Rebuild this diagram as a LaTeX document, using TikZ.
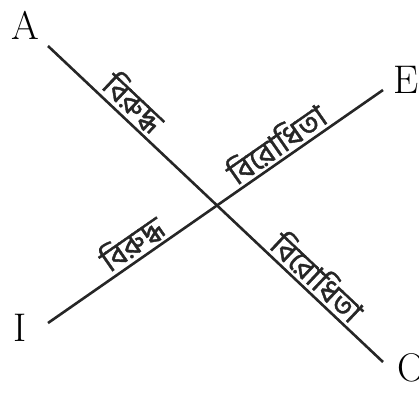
\documentclass[tikz,border=0pt]{standalone}
\usepackage{fontspec}
\newfontfamily\bnfont[Script=Bengali,FakeBold=1.2]{Hind Siliguri}
\usetikzlibrary{positioning}
\begin{document}
\begin{tikzpicture}[x=1pt, y=-1pt,
  corner/.style={font=\fontsize{40}{40}\selectfont, inner sep=0pt},
  rel/.style={font=\bnfont\fontsize{31}{31}\selectfont, sloped, above, inner sep=2.5pt},
  relline/.style={line width=2.6pt, black!85},
]
\useasboundingbox (0,0) rectangle (419,392);
% ends of the two lines
\coordinate (a) at (48,46);
\coordinate (o) at (383,362);
\coordinate (i) at (48,323);
\coordinate (e) at (383,90);
\node[corner] (A) at (25,25)  {A};
\node[corner] (E) at (406,80) {E};
\node[corner] (I) at (20,328) {I};
\node[corner] (O) at (412,368) {O};
\draw[relline] (a) -- node[rel, pos=0.22] {বিরুদ্ধ} node[rel, pos=0.77] {বিরোধিতা} (o);
\draw[relline] (i) -- node[rel, pos=0.28] {বিরুদ্ধ} node[rel, pos=0.71] {বিরোধিতা} (e);
\end{tikzpicture}
\end{document}
